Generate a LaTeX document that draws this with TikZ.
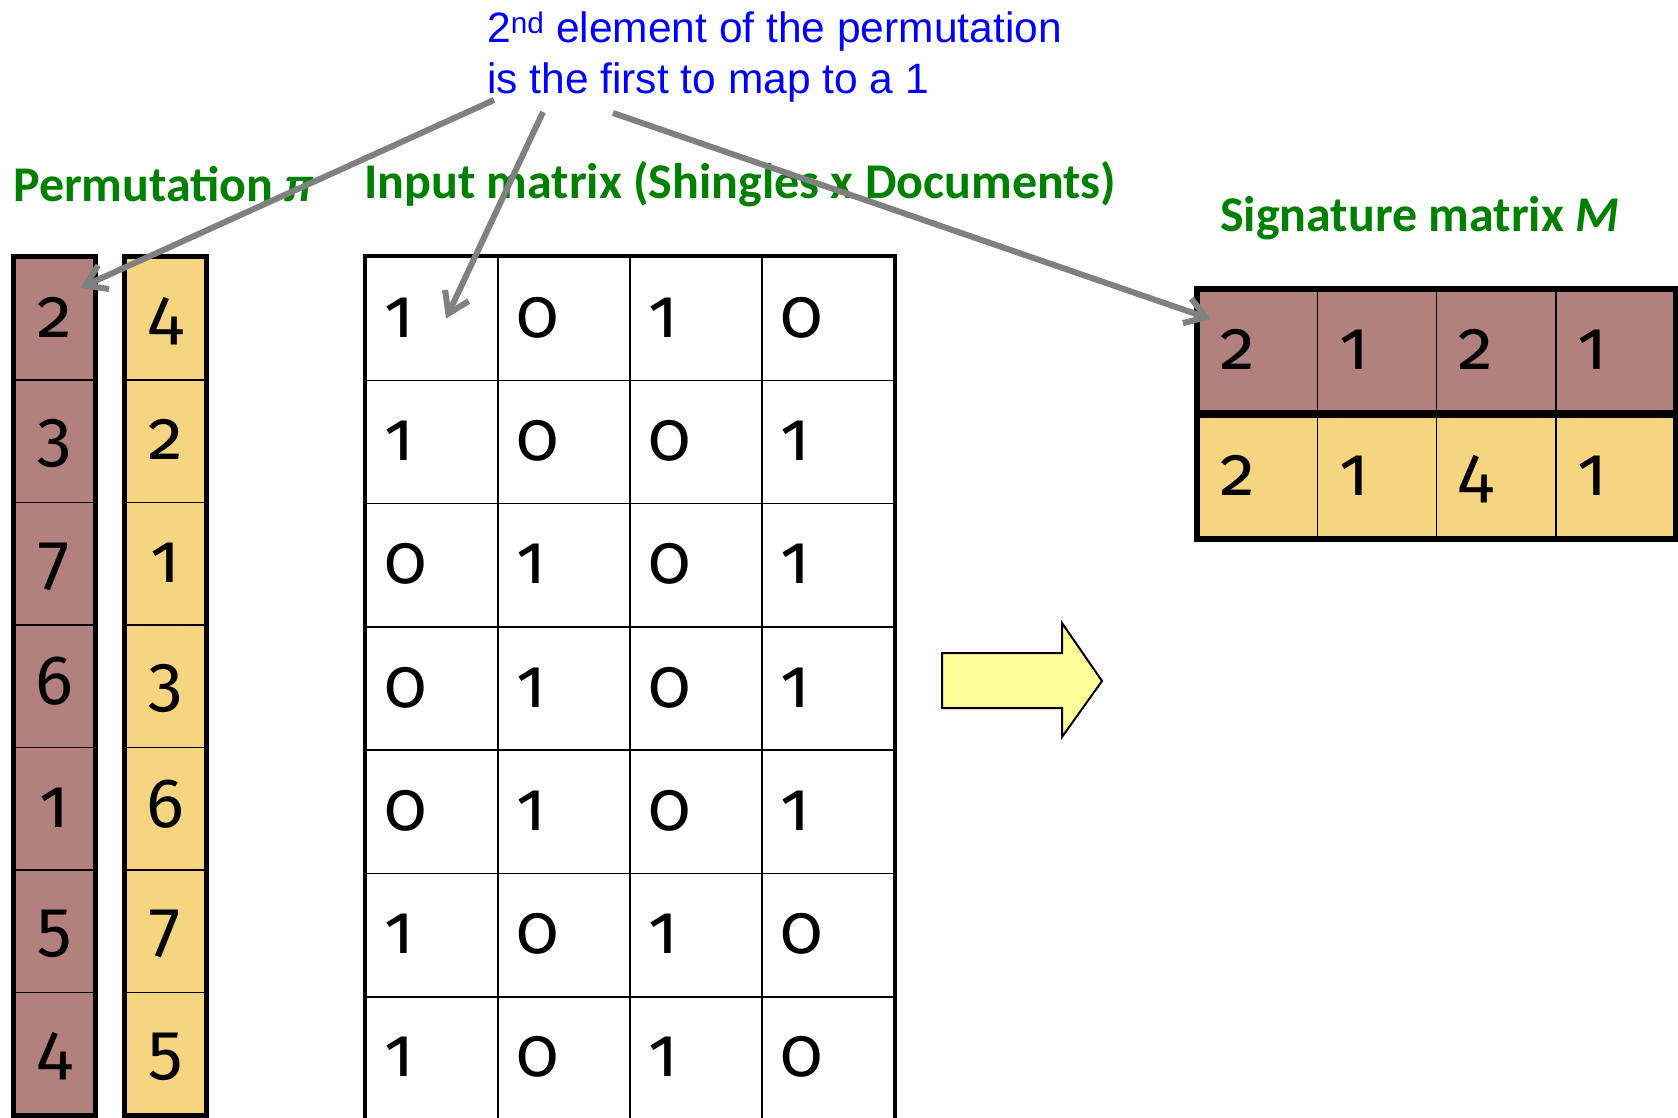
\documentclass[tikz,border=0pt]{standalone}
\usepackage{fontspec}
\setmainfont{Carlito}
\newfontfamily\notefont{Liberation Sans}
\newfontfamily\digitfont{Fira Sans}[Numbers=OldStyle]
\usetikzlibrary{calc,positioning,arrows.meta}

\definecolor{permred}{RGB}{178,128,125}
\definecolor{permyellow}{RGB}{245,213,128}
\definecolor{headgreen}{RGB}{0,128,0}
\definecolor{notegray}{RGB}{128,128,128}
\definecolor{bigarrow}{RGB}{255,255,153}

\tikzset{
  note/.style={anchor=south west, inner sep=0pt, align=left, text=blue,
    font=\notefont\fontsize{42.5}{51}\selectfont},
  heading/.style={anchor=base west, inner sep=0pt, text=headgreen,
    font=\fontsize{50}{52}\selectfont\bfseries},
  digit/.style={font=\digitfont\fontsize{70}{70}\selectfont, text height=37pt, text depth=0pt},
  pcell/.style={digit, draw, line width=1.6pt, minimum width=80pt,
    minimum height=122.5pt, inner sep=0pt},
  mcell/.style={digit, draw, line width=1.6pt, text width=96pt, inner xsep=18pt,
    inner ysep=0pt, minimum height=123.3pt, align=left},
  scell/.style={digit, draw, line width=1.6pt, text width=75.3pt, inner xsep=22pt,
    inner ysep=0pt, minimum height=122pt, align=left},
  frame/.style={line width=5pt},
  pointer/.style={draw=notegray, line width=6pt,
    -{Straight Barb[length=20pt,width=26pt]}},
}

\begin{document}
\begin{tikzpicture}[x=1pt,y=-1pt]
  \useasboundingbox (0,0) rectangle (1678,1118);

  \node[note] (note) at (487,103)
    {2\textsuperscript{nd} element of the permutation\\is the first to map to a 1};

  \node[heading] (permhead) at (13,201) {Permutation \textit{π}};
  \node[heading] (inhead) at (364,199) {Input matrix (Shingles x Documents)};
  \node[heading] (sighead) at (1220,231) {Signature matrix \textit{M}};

  % permutations
  \foreach \v [count=\i] in {2,3,7,6,1,5,4}
    \node[pcell, fill=permred] (pa\i) at (54.5,{257.5+(\i-0.5)*122.5}) {\v};
  \foreach \v [count=\i] in {4,2,1,3,6,7,5}
    \node[pcell, fill=permyellow] (pb\i) at (165.5,{257.5+(\i-0.5)*122.5}) {\v};
  \draw[frame] (pa1.north west) rectangle (pa7.south east);
  \draw[frame] (pb1.north west) rectangle (pb7.south east);

  % input matrix
  \foreach \row [count=\r] in {{1,0,1,0},{1,0,0,1},{0,1,0,1},{0,1,0,1},{0,1,0,1},{1,0,1,0},{1,0,1,0}}
    \foreach \v [count=\c] in \row
      \node[mcell] (m\r-\c) at ({366+(\c-0.5)*132},{257+(\r-0.5)*123.3}) {\v};
  \draw[frame, line width=4.5pt] (m1-1.north west) rectangle (m7-4.south east);

  % signature matrix
  \foreach \v [count=\c] in {2,1,2,1}
    \node[scell, fill=permred] (sa\c) at ({1198+(\c-0.5)*119.3},351) {\v};
  \foreach \v [count=\c] in {2,1,4,1}
    \node[scell, fill=permyellow] (sb\c) at ({1198+(\c-0.5)*119.3},477) {\v};
  \draw[frame, line width=6pt] (sa1.north west) rectangle (sa4.south east);
  \draw[frame, line width=6pt] (sb1.north west) rectangle (sb4.south east);

  \draw[line width=2pt, fill=bigarrow] (942,653) -- (1062,653) -- (1062,623)
    -- (1102,681) -- (1062,737) -- (1062,708) -- (942,708) -- cycle;

  \draw[pointer] ([shift={(7,-3)}]note.south west) -- ([shift={(-15,31)}]pa1.north east);
  \draw[pointer] ([shift={(56,9)}]note.south west) -- ([xshift=14pt]m1-1.center);
  \draw[pointer] ([shift={(126,10)}]note.south west) -- ([shift={(14,30)}]sa1.north west);
\end{tikzpicture}
\end{document}
